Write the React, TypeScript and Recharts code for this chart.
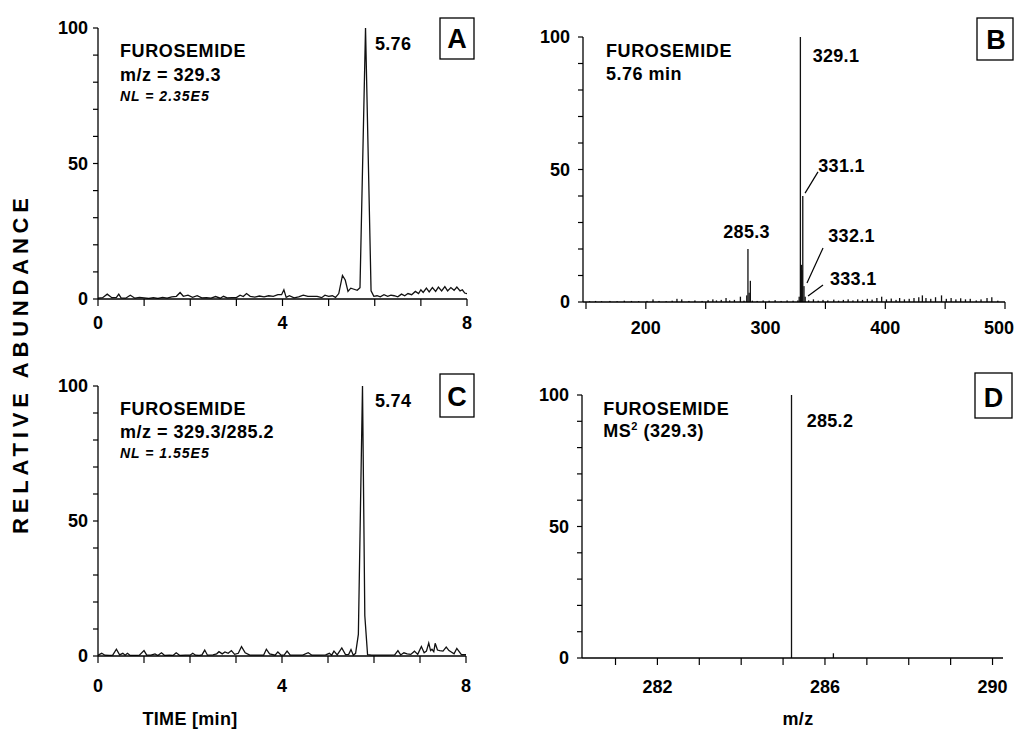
import React from 'react';
import { LineChart, Line, BarChart, Bar, XAxis, YAxis, ReferenceLine, Customized } from 'recharts';

const FONT = '"Liberation Sans", Arial, Helvetica, sans-serif';

// ---- Panel A: chromatogram m/z 329.3 ----
const timeA = [0,0.1,0.2,0.3,0.4,0.45,0.5,0.6,0.7,0.8,0.9,1.0,1.1,1.2,1.3,1.4,1.5,1.6,1.7,1.78,1.85,1.95,2.05,2.15,2.25,2.35,2.45,2.55,2.65,2.72,2.8,2.9,3.0,3.08,3.15,3.22,3.3,3.4,3.5,3.6,3.7,3.8,3.9,3.98,4.03,4.08,4.15,4.25,4.35,4.45,4.55,4.65,4.75,4.85,4.92,5.0,5.08,5.15,5.22,5.3,5.36,5.42,5.48,5.55,5.62,5.68,5.80,5.92,5.98,6.05,6.12,6.2,6.28,6.35,6.42,6.5,6.58,6.65,6.72,6.8,6.88,6.95,7.0,7.05,7.12,7.18,7.25,7.32,7.38,7.45,7.52,7.58,7.65,7.72,7.78,7.85,7.9,7.95,8.0];
const valuesA = [0.3,0.5,1.8,0.5,0.6,1.8,0.4,0.3,1.4,0.3,0.6,0.4,0.2,0.5,0.2,0.6,0.3,0.8,1.0,2.4,1.0,1.4,0.6,1.2,0.4,0.5,0.3,0.9,0.3,1.0,0.4,0.5,0.5,1.4,0.9,2.0,1.0,0.7,1.1,0.8,1.2,1.0,1.6,1.6,3.4,0.6,1.2,0.4,0.8,1.4,1.0,1.0,1.0,0.5,1.4,1.0,1.2,0.6,2.0,8.7,7.0,2.8,4.0,3.6,3.2,4.2,100,3.0,1.0,1.2,0.8,1.6,1.0,1.4,1.2,0.8,1.8,1.2,2.0,1.6,2.8,2.0,3.4,2.4,4.0,2.6,4.2,2.8,4.4,3.0,4.6,3.0,4.2,3.2,4.4,3.0,3.4,2.2,2.0];

// ---- Panel C: chromatogram m/z 329.3/285.2 ----
const timeC = [0,0.08,0.15,0.25,0.32,0.4,0.47,0.54,0.59,0.64,0.7,0.8,0.9,1.0,1.06,1.15,1.24,1.3,1.38,1.45,1.55,1.63,1.7,1.78,1.9,2.0,2.06,2.12,2.2,2.26,2.32,2.38,2.5,2.58,2.63,2.7,2.76,2.83,2.9,2.97,3.05,3.12,3.2,3.3,3.45,3.6,3.66,3.73,3.85,3.91,3.98,4.05,4.11,4.18,4.3,4.45,4.57,4.65,4.8,4.95,5.03,5.08,5.13,5.2,5.3,5.38,5.45,5.5,5.55,5.6,5.66,5.75,5.80,5.86,5.95,6.1,6.3,6.45,6.52,6.58,6.65,6.72,6.8,6.88,6.95,7.03,7.09,7.14,7.19,7.23,7.26,7.3,7.33,7.38,7.43,7.5,7.57,7.63,7.68,7.74,7.8,7.86,7.9,8.0];
const valuesC = [0.3,1.0,0.3,0.2,0.3,2.5,0.4,1.0,0.3,1.0,0.2,0.2,0.3,2.0,0.3,0.3,0.8,0.2,1.2,0.2,0.3,0.2,1.2,0.2,0.3,0.3,1.0,0.3,0.2,0.4,2.2,0.3,0.4,0.8,1.6,0.8,1.5,1.0,2.0,0.6,1.0,3.5,1.2,0.3,0.3,0.3,2.5,0.8,0.3,1.5,0.3,0.4,1.8,0.3,0.3,0.3,1.2,0.3,0.3,0.4,1.0,0.3,1.8,0.4,3.0,0.5,0.6,2.4,0.3,1.0,8,100,15,0.5,0.3,0.3,0.3,0.4,2.0,0.4,1.2,0.8,0.6,1.8,0.6,3.5,1.2,1.8,4.8,2.0,2.5,1.6,4.7,2.2,2.0,1.8,3.3,2.0,1.5,0.8,2.8,1.4,0.5,0.5];

// ---- Panel B: full-scan mass spectrum at 5.76 min ----
const mzB = [153,158,163,170,176,182,188,194,201,206,211,217,222,226,230,236,241,247,252,256,259,263,267,270,274,279,282,284.3,285.3,286.3,287.3,289,293,298,303,308,313,318,323,327,328.1,329.1,329.6,330.1,330.5,331.1,332.1,333.1,336,340,344,348,352,357,361,365,369,373,377,381,385,389,393,397,401,405,409,412,416,420,424,428,431,434,438,442,447,451,455,459,463,467,471,476,480,485,489,494];
const intB = [0.3,0.4,0.3,0.4,0.3,0.5,0.4,0.3,0.4,1.0,0.4,0.3,0.5,1.2,1.0,0.4,0.6,0.4,0.7,1.0,0.6,0.8,1.5,0.6,0.8,2.0,0.5,2.5,20,3.5,8,0.5,0.4,0.6,0.5,0.7,0.4,0.6,0.5,0.6,2,100,14,14,12,40,6,2,0.6,1.0,0.5,0.8,0.6,0.9,0.5,0.8,1.0,0.6,1.0,0.8,1.2,0.9,1.5,2.0,1.0,1.3,0.8,1.5,1.0,1.2,1.5,1.8,2.5,1.5,1.2,1.8,2.5,1.2,1.5,1.0,1.4,1.0,1.2,0.6,1.0,1.5,1.8,0.5];

// ---- Panel D: MS2 spectrum of 329.3 ----
const mzD = [285.2, 286.2];
const intD = [100, 1.8];

// ---- ticks ----
const yTicks = [0,10,20,30,40,50,60,70,80,90,100];
const yLabels = [0,50,100];
const timeTicks = [0,1,2,3,4,5,6,7,8];
const timeLabels = [0,4,8];
const mzTicksB = [150,200,250,300,350,400,450,500];
const mzLabelsB = [200,300,400,500];
const mzTicksD = [281,282,283,284,285,286,287,288,289,290];
const mzLabelsD = [282,286,290];

const dataA = timeA.map((t, i) => ({ t, v: valuesA[i] }));
const dataC = timeC.map((t, i) => ({ t, v: valuesC[i] }));
const dataB = mzB.map((m, i) => ({ m, v: intB[i] }));
const dataD = mzD.map((m, i) => ({ m, v: intD[i] }));

const only = (list: number[]) => (v: number) => (list.indexOf(v) >= 0 ? String(v) : '');

const tickStyle = { fill: '#000', fontSize: 18, fontFamily: FONT, fontWeight: 'bold' as const };
const INK = '#111';

const Stick = (props: any) => {
  const { x, y, width, height } = props;
  if (height == null || height <= 0) return null;
  const cx = x + width / 2;
  return <rect x={cx - 0.65} y={y} width={1.3} height={height} fill={INK} />;
};

// x tick for panel B: keep the last label inside the picture
const TickB = (props: any) => {
  const { x, y, payload } = props;
  const label = mzLabelsB.indexOf(payload.value) >= 0 ? String(payload.value) : '';
  const shift = payload.value === 500 ? -6 : 0;
  return (
    <text x={x + shift} y={y} dy="0.71em" textAnchor="middle" fontFamily={FONT} fontSize={18} fontWeight="bold" fill="#000">{label}</text>
  );
};

const tx = (extra: any = {}) => ({ fontFamily: FONT, fontSize: 18, fontWeight: 'bold', fill: '#000', letterSpacing: 0.6, ...extra });

const Box = ({ x, y, w, h, letter, lx, ly }: any) => (
  <g>
    <rect x={x} y={y} width={w} height={h} fill="#fff" stroke="#000" strokeWidth={1.3} />
    <text x={lx} y={ly} textAnchor="middle" {...tx({ fontSize: 27, letterSpacing: 0 })}>{letter}</text>
  </g>
);

const OverlayA = () => (
  <g>
    <text x={120} y={57} {...tx()}>FUROSEMIDE</text>
    <text x={120} y={81} {...tx({ letterSpacing: 0.5 })}>m/z = 329.3</text>
    <text x={120} y={100.5} {...tx({ fontSize: 14, fontStyle: 'italic', letterSpacing: 1 })}>NL = 2.35E5</text>
    <text x={375} y={50} {...tx({ letterSpacing: 0.3 })}>5.76</text>
    <Box x={440} y={18} w={34} h={41} letter="A" lx={457} ly={48} />
  </g>
);

const OverlayB = () => (
  <g>
    <text x={106} y={56.7} {...tx()}>FUROSEMIDE</text>
    <text x={106} y={80} {...tx({ letterSpacing: 0.5 })}>5.76 min</text>
    <text x={312.7} y={61.7} {...tx({ letterSpacing: 0.3 })}>329.1</text>
    <text x={318.3} y={171.7} {...tx({ letterSpacing: 0.3 })}>331.1</text>
    <text x={223.3} y={238} {...tx({ letterSpacing: 0.3 })}>285.3</text>
    <text x={328.3} y={242} {...tx({ letterSpacing: 0.3 })}>332.1</text>
    <text x={330} y={285} {...tx({ letterSpacing: 0.3 })}>333.1</text>
    <Box x={477} y={18} w={36} h={42} letter="B" lx={496} ly={48.5} />
  </g>
);

const OverlayC = () => (
  <g>
    <text x={120} y={70} {...tx()}>FUROSEMIDE</text>
    <text x={120} y={93} {...tx({ letterSpacing: 0.5 })}>m/z = 329.3/285.2</text>
    <text x={120} y={113} {...tx({ fontSize: 14, fontStyle: 'italic', letterSpacing: 1 })}>NL = 1.55E5</text>
    <text x={375} y={62} {...tx({ letterSpacing: 0.3 })}>5.74</text>
    <Box x={440} y={29} w={34} h={43} letter="C" lx={457} ly={61} />
    <text x={190} y={379.5} textAnchor="middle" {...tx({ letterSpacing: 0.3 })}>TIME [min]</text>
  </g>
);

const OverlayD = () => (
  <g>
    <text x={103.3} y={70} {...tx()}>FUROSEMIDE</text>
    <text x={103.3} y={92} {...tx({ letterSpacing: 0.5 })}>
      MS<tspan fontSize={11} dy={-7}>2</tspan><tspan fontSize={18} dy={7}> (329.3)</tspan>
    </text>
    <text x={306.7} y={81.7} {...tx({ letterSpacing: 0.3 })}>285.2</text>
    <Box x={475} y={28} w={37} h={45} letter="D" lx={493.5} ly={61.7} />
    <text x={298} y={379.5} textAnchor="middle" {...tx({ letterSpacing: 0.3 })}>m/z</text>
  </g>
);

const axisCommon = {
  stroke: '#000',
  tickLine: { stroke: '#000', strokeWidth: 1.2 },
  axisLine: { stroke: '#000', strokeWidth: 1.3 },
  interval: 0 as const,
};

export default function App() {
  return (
    <div style={{ position: 'absolute', left: 0, top: 0, width: 1018, height: 732, background: '#fff' }}>
      {/* Panel A */}
      <div style={{ position: 'absolute', left: 0, top: 0 }}>
        <LineChart width={500} height={345} data={dataA} margin={{ top: 28, right: 33, bottom: 16, left: 58 }}>
          <XAxis dataKey="t" type="number" domain={[0, 8]} ticks={timeTicks} tickFormatter={only(timeLabels)} height={30} tickSize={7} tickMargin={10} allowDataOverflow tick={tickStyle} {...axisCommon} />
          <YAxis type="number" domain={[0, 100]} ticks={yTicks} tickFormatter={only(yLabels)} width={40} tickSize={5} tickMargin={5} allowDataOverflow tick={tickStyle} {...axisCommon} />
          <Line type="linear" dataKey="v" stroke={INK} strokeWidth={1.3} dot={false} isAnimationActive={false} />
          <Customized component={<OverlayA />} />
        </LineChart>
      </div>

      {/* Panel B */}
      <div style={{ position: 'absolute', left: 500, top: 0 }}>
        <BarChart width={518} height={345} data={dataB} margin={{ top: 37, right: 13, bottom: 13, left: 43 }}>
          <XAxis dataKey="m" type="number" domain={[147.5, 500]} ticks={mzTicksB} height={30} tickSize={7} tickMargin={12} allowDataOverflow tick={<TickB />} {...axisCommon} />
          <YAxis type="number" domain={[0, 100]} ticks={yTicks} tickFormatter={only(yLabels)} width={40} tickSize={5} tickMargin={8} allowDataOverflow tick={tickStyle} {...axisCommon} />
          <Bar dataKey="v" barSize={2} shape={<Stick />} isAnimationActive={false} />
          <ReferenceLine segment={[{ x: 343.8, y: 49.1 }, { x: 333.0, y: 41.1 }]} stroke="#000" strokeWidth={1.2} ifOverflow="visible" />
          <ReferenceLine segment={[{ x: 348.0, y: 20.4 }, { x: 334.6, y: 7.2 }]} stroke="#000" strokeWidth={1.2} ifOverflow="visible" />
          <ReferenceLine segment={[{ x: 348.0, y: 6.4 }, { x: 335.5, y: 2.3 }]} stroke="#000" strokeWidth={1.2} ifOverflow="visible" />
          <Customized component={<OverlayB />} />
        </BarChart>
      </div>

      {/* Panel C */}
      <div style={{ position: 'absolute', left: 0, top: 345 }}>
        <LineChart width={500} height={387} data={dataC} margin={{ top: 41, right: 34, bottom: 46, left: 58 }}>
          <XAxis dataKey="t" type="number" domain={[0, 8]} ticks={timeTicks} tickFormatter={only(timeLabels)} height={30} tickSize={7} tickMargin={16} allowDataOverflow tick={tickStyle} {...axisCommon} />
          <YAxis type="number" domain={[0, 100]} ticks={yTicks} tickFormatter={only(yLabels)} width={40} tickSize={5} tickMargin={5} allowDataOverflow tick={tickStyle} {...axisCommon} />
          <Line type="linear" dataKey="v" stroke={INK} strokeWidth={1.3} dot={false} isAnimationActive={false} />
          <Customized component={<OverlayC />} />
        </LineChart>
      </div>

      {/* Panel D */}
      <div style={{ position: 'absolute', left: 500, top: 345 }}>
        <BarChart width={518} height={387} data={dataD} margin={{ top: 50, right: 15, bottom: 44, left: 42 }}>
          <XAxis dataKey="m" type="number" domain={[280.2, 290.25]} ticks={mzTicksD} tickFormatter={only(mzLabelsD)} height={30} tickSize={7} tickMargin={15} allowDataOverflow tick={tickStyle} {...axisCommon} />
          <YAxis type="number" domain={[0, 100]} ticks={yTicks} tickFormatter={only(yLabels)} width={40} tickSize={5} tickMargin={8} allowDataOverflow tick={tickStyle} {...axisCommon} />
          <Bar dataKey="v" barSize={2} shape={<Stick />} isAnimationActive={false} />
          <Customized component={<OverlayD />} />
        </BarChart>
      </div>

      {/* shared y label */}
      <svg style={{ position: 'absolute', left: 0, top: 0 }} width={50} height={732}>
        <text x={28} y={366} transform="rotate(-90, 28, 366)" textAnchor="middle" textLength={336} lengthAdjust="spacing"
          fontFamily={FONT} fontSize={22} fontWeight="bold" fill="#000">RELATIVE ABUNDANCE</text>
      </svg>
    </div>
  );
}
